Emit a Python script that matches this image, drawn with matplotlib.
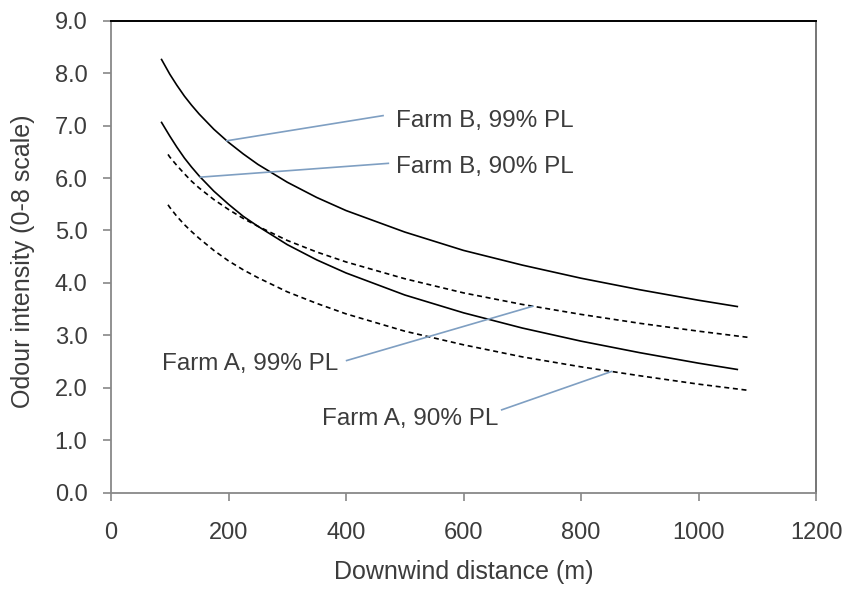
import numpy as np
import matplotlib
matplotlib.use("Agg")
import matplotlib.pyplot as plt

plt.rcParams['font.family'] = ['Liberation Sans', 'DejaVu Sans']

# downwind distance (m) and predicted odour intensity for each farm / prediction limit
dist_b = [86, 100, 112, 125, 137, 150, 175, 200, 225, 250, 300, 350, 400, 500, 600, 700, 800, 900, 1000, 1066]
farm_b_99 = [8.26, 7.98, 7.77, 7.56, 7.39, 7.22, 6.93, 6.68, 6.46, 6.26, 5.92, 5.63, 5.38, 4.97, 4.62, 4.34, 4.09, 3.87, 3.67, 3.55]
farm_b_90 = [7.06, 6.80, 6.59, 6.38, 6.21, 6.04, 5.75, 5.50, 5.27, 5.08, 4.73, 4.44, 4.19, 3.77, 3.43, 3.14, 2.89, 2.67, 2.47, 2.35]

dist_a = [97, 100, 112, 125, 137, 150, 175, 200, 225, 250, 300, 350, 400, 500, 600, 700, 800, 900, 1000, 1086]
farm_a_99 = [6.45, 6.40, 6.24, 6.08, 5.94, 5.81, 5.59, 5.40, 5.23, 5.08, 4.81, 4.59, 4.40, 4.08, 3.81, 3.59, 3.40, 3.23, 3.08, 2.96]
farm_a_90 = [5.49, 5.44, 5.27, 5.11, 4.98, 4.85, 4.62, 4.42, 4.25, 4.10, 3.83, 3.61, 3.41, 3.08, 2.82, 2.59, 2.40, 2.23, 2.07, 1.95]

x_ticks = [0, 200, 400, 600, 800, 1000, 1200]
y_ticks = [0, 1, 2, 3, 4, 5, 6, 7, 8, 9]

txt = '#3c3c3c'

fig = plt.figure(figsize=(8.45, 5.91), dpi=100)
ax = fig.add_axes([0.1314, 0.1663, 0.8343, 0.7987])

ax.plot(dist_b, farm_b_99, color='black', lw=1.2)
ax.plot(dist_b, farm_b_90, color='black', lw=1.2)
ax.plot(dist_a, farm_a_99, color='black', lw=1.2, dashes=(3.0, 2.2))
ax.plot(dist_a, farm_a_90, color='black', lw=1.2, dashes=(3.0, 2.2))

# label text with a thin leader line back to its curve
labels = [
    ("Farm B, 99% PL", dist_b, farm_b_99, 197, (463, 7.19), (485, 6.97), 'left'),
    ("Farm B, 90% PL", dist_b, farm_b_90, 152, (472, 6.28), (485, 6.09), 'left'),
    ("Farm A, 99% PL", dist_a, farm_a_99, 718, (401, 2.52), (387, 2.34), 'right'),
    ("Farm A, 90% PL", dist_a, farm_a_90, 852, (665, 1.58), (659, 1.29), 'right'),
]
for text, xs, ys, x_on, end, pos, ha in labels:
    y_on = np.interp(x_on, xs, ys)
    ax.plot([x_on, end[0]], [y_on, end[1]], color='#7f9fc2', lw=1.2)
    ax.text(pos[0], pos[1], text, ha=ha, va='baseline', fontsize=17.5, color=txt)

ax.set_xlim(0, 1200)
ax.set_ylim(0, 9)
ax.set_xticks(x_ticks)
ax.set_yticks(y_ticks)
ax.set_yticklabels([f"{v:.1f}" for v in y_ticks])

ax.tick_params(axis='both', direction='out', length=6, width=1.2, color='#888888',
               labelsize=17, labelcolor=txt)
ax.tick_params(axis='x', pad=15)
ax.tick_params(axis='y', pad=11)

for side in ['left', 'bottom']:
    ax.spines[side].set_color('#888888')
    ax.spines[side].set_linewidth(1.3)
ax.spines['top'].set_color('black')
ax.spines['top'].set_linewidth(1.4)
ax.spines['right'].set_color('#6a6a6a')
ax.spines['right'].set_linewidth(1.3)

ax.set_xlabel("Downwind distance (m)", fontsize=18, color=txt, va='center')
ax.xaxis.set_label_coords(0.5, -0.168)
ax.set_ylabel("Odour intensity (0-8 scale)", fontsize=18, color=txt, va='center')
ax.yaxis.set_label_coords(-0.125, 0.49)

fig.savefig("out.png", dpi=100)
